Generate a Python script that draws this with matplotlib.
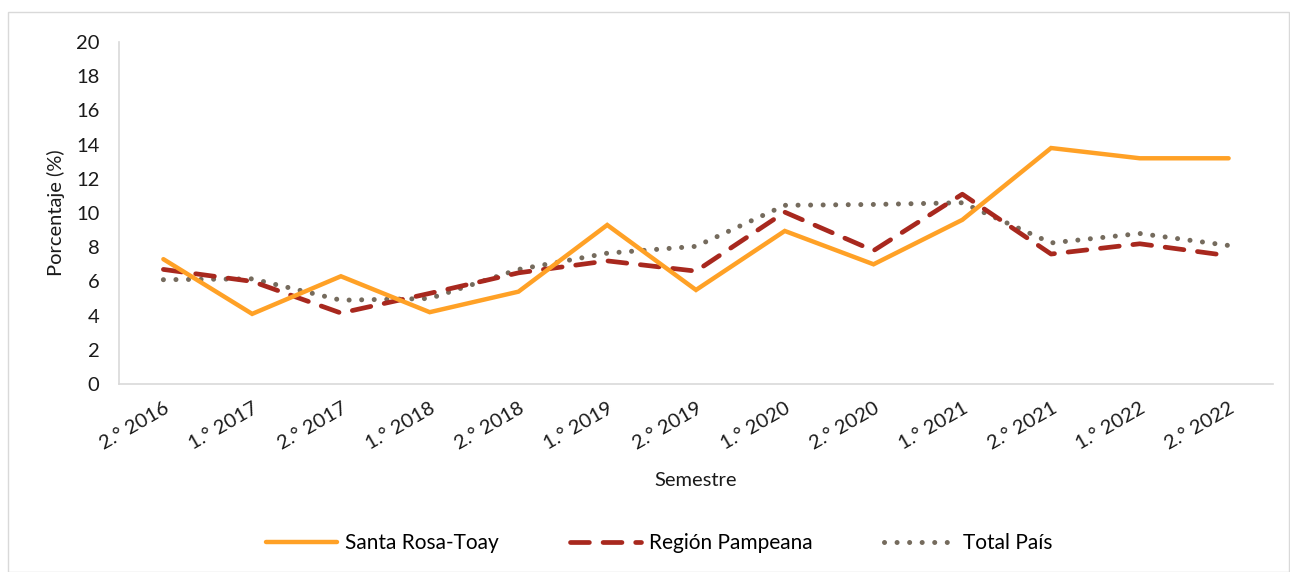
import numpy as np
import matplotlib.pyplot as plt
from matplotlib.patches import Rectangle

plt.rcParams['font.family'] = ['Lato', 'DejaVu Sans']

semestres = ['2.° 2016', '1.° 2017', '2.° 2017', '1.° 2018', '2.° 2018', '1.° 2019',
             '2.° 2019', '1.° 2020', '2.° 2020', '1.° 2021', '2.° 2021', '1.° 2022', '2.° 2022']
santa_rosa = [7.3, 4.1, 6.3, 4.2, 5.4, 9.3, 5.5, 8.95, 7.0, 9.6, 13.8, 13.2, 13.2]
region_pampeana = [6.7, 6.0, 4.15, 5.3, 6.5, 7.2, 6.6, 10.05, 7.8, 11.1, 7.6, 8.2, 7.5]
total_pais = [6.1, 6.15, 4.9, 5.0, 6.7, 7.65, 8.05, 10.45, 10.5, 10.6, 8.25, 8.8, 8.1]

fig = plt.figure(figsize=(12.9, 5.72), dpi=100)
ax = fig.add_axes([119/1290, 1 - 384/572, (1273-119)/1290, (384-42)/572])

x = np.arange(len(semestres))
ax.plot(x, santa_rosa, color='#FFA126', lw=3.2, solid_capstyle='round', solid_joinstyle='miter',
        label='Santa Rosa-Toay', zorder=3)
ax.plot(x, region_pampeana, color='#A8281E', lw=3.4, linestyle=(0, (4.0, 2.9)),
        dash_capstyle='round', label='Región Pampeana', zorder=2)
ax.plot(x, total_pais, color='#756B5D', lw=3.6, linestyle=(0, (0.01, 2.5)),
        dash_capstyle='round', label='Total País', zorder=1)

ax.set_xlim(-0.5, len(semestres) - 0.5)
ax.set_ylim(0, 20)
ax.set_yticks(range(0, 21, 2))
ax.set_xticks(x)
ax.set_xticklabels(semestres, rotation=30, ha='right', rotation_mode='anchor')
ax.tick_params(length=0, labelsize=14.5, colors='#1a1a1a')
ax.tick_params(axis='x', pad=11)
ax.tick_params(axis='y', pad=14)

for s in ['top', 'right']:
    ax.spines[s].set_visible(False)
for s in ['left', 'bottom']:
    ax.spines[s].set_color('#D9D9D9')
    ax.spines[s].set_linewidth(1.2)

ax.set_ylabel('Porcentaje (%)', fontsize=14.5, color='#1a1a1a', labelpad=8)
ax.set_xlabel('Semestre', fontsize=14.5, color='#1a1a1a', labelpad=14)

fig.legend(loc='center', bbox_to_anchor=(0.511, 1 - 543/572), ncol=3, frameon=False,
           fontsize=15, handlelength=3.4, columnspacing=3.4, handletextpad=0.4)

fig.patches.append(Rectangle((8/1290, 0), 1281/1290, 1 - 12/572, transform=fig.transFigure,
                             fill=False, edgecolor='#D9D9D9', lw=1))

fig.savefig('out.png', dpi=100)
